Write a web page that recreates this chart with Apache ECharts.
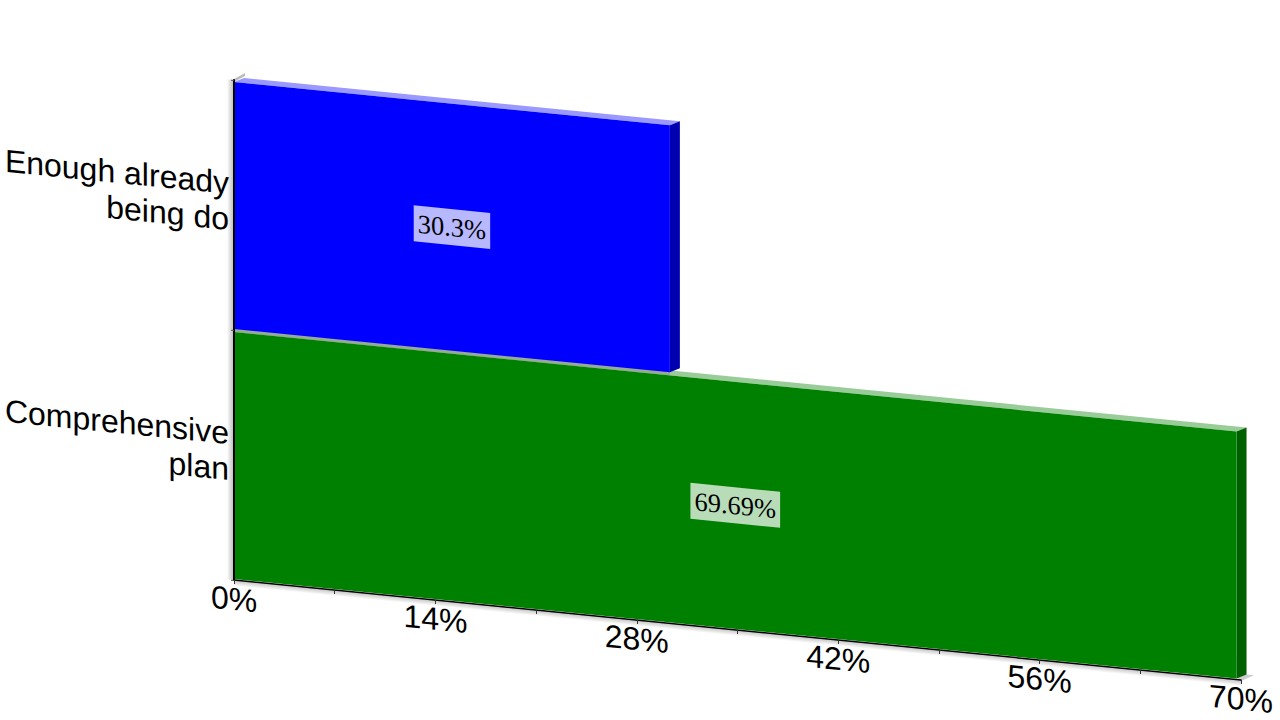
<!DOCTYPE html>
<html>
<head>
<meta charset="utf-8">
<style>
html,body{margin:0;padding:0;background:#fff;overflow:hidden;width:1280px;height:720px}
#chart{position:absolute;left:0;top:0;width:1280px;height:720px;overflow:visible;transform-origin:0 0;transform:matrix(1,0.0993,0,1,0,-23.24)}
</style>
<script src="https://cdn.jsdelivr.net/npm/echarts@6/dist/echarts.min.js"></script>
</head>
<body>
<div id="chart"></div>
<script>
var categories = ['Comprehensive\nplan', 'Enough already\nbeing do'];
var values = [69.69, 30.3];
var labels = ['69.69%', '30.3%'];
var tickLabelSuffix = '%';
var axisMax = 70;
var axisStep = 14;

var frontColors = ['#008000', '#0000ff'];
var topColors = ['#99cc99', '#9999ff'];
var sideColors = ['#006000', '#0000b0'];
var DX = 10, DY = -5;

var chart = echarts.init(document.getElementById('chart'), null, {renderer: 'svg', width: 1280, height: 720});

function poly(points, fill) {
  return {type: 'polygon', shape: {points: points}, style: {fill: fill}};
}

function renderBar(params, api) {
  var i = params.dataIndex;
  var v = api.value(0), c = api.value(1);
  var p0 = api.coord([0, c]), p1 = api.coord([v, c]);
  var h = api.size([0, 1])[1];
  var top = p0[1] - h / 2 + 2, bottom = p0[1] + h / 2 - 1;
  var xl = p0[0], xr = p1[0];
  var children = [
    poly([[xl, top], [xl + DX, top + DY], [xr + DX, top + DY], [xr, top]], topColors[i])
  ];
  // the part of the top face lying under the next bar reads darker
  if (i + 1 < values.length && values[i + 1] < v) {
    var xn = api.coord([values[i + 1], c])[0];
    children.push(poly([[xl, top], [xl, top - 4], [xn, top - 4], [xn, top]], '#96aa96'));
  }
  children.push(poly([[xr, top], [xr + DX, top + DY], [xr + DX, bottom + DY], [xr, bottom]], sideColors[i]));
  children.push({type: 'rect', shape: {x: xl, y: top, width: xr - xl, height: bottom - top}, style: {fill: frontColors[i]}});
  children.push({
    type: 'text', z2: 10,
    style: {
      text: labels[i], x: (xl + xr) / 2, y: (top + bottom) / 2,
      align: 'center', verticalAlign: 'middle',
      font: '26.5px "Liberation Serif"', fill: '#000',
      backgroundColor: 'rgba(255,255,255,0.72)',
      padding: [3, 4, 3, 4], lineHeight: 30
    }
  });
  return {type: 'group', children: children};
}

function fade(x, y, x2, y2, from) {
  return {type: 'linear', x: x, y: y, x2: x2, y2: y2, global: false,
    colorStops: [{offset: 0, color: 'rgba(0,0,0,0)'}, {offset: 1, color: from}]};
}

function renderWall(params, api) {
  var h = api.size([0, 1])[1];
  var tl = api.coord([0, 1]), br = api.coord([axisMax, 0]);
  var ty = tl[1] - h / 2, by = br[1] + h / 2, x0 = tl[0], x1 = br[0];
  return {type: 'group', children: [
    poly([[x0, ty - 1], [x0 + 11, ty - 8], [x0 + 11, ty - 5], [x0, ty + 2]], '#bdbdbd'),
    poly([[x1 - 5, by - 3], [x1 + 5, by - 6], [x1 + 13, by - 6], [x1, by + 1]], '#cccccc'),
    {type: 'rect', shape: {x: x0 - 7, y: ty, width: 7, height: by - ty},
     style: {fill: fade(0, 0, 1, 0, 'rgba(0,0,0,0.28)')}},
    {type: 'rect', shape: {x: x0, y: by, width: x1 - x0, height: 6},
     style: {fill: fade(0, 1, 0, 0, 'rgba(0,0,0,0.25)')}}
  ]};
}

chart.setOption({
  animation: false,
  backgroundColor: '#fff',
  grid: {left: 234, top: 80, width: 1007, height: 500, containLabel: false},
  xAxis: {
    type: 'value', min: 0, max: axisMax, interval: axisStep, z: 10,
    splitLine: {show: false},
    axisLine: {show: true, lineStyle: {color: '#000', width: 1.5}},
    axisTick: {show: true, length: 4, lineStyle: {color: '#333', width: 1}},
    minorTick: {show: true, splitNumber: 2, length: 4, lineStyle: {color: '#333', width: 1}},
    axisLabel: {
      margin: 3, color: '#000', fontSize: 32, fontFamily: 'Liberation Sans',
      showMinLabel: true, showMaxLabel: true, hideOverlap: false,
      formatter: function (v) { return v + tickLabelSuffix; }
    }
  },
  yAxis: {
    type: 'category', data: categories, z: 10,
    axisLine: {show: true, onZero: false, lineStyle: {color: '#000', width: 2}},
    axisTick: {show: true, length: 3, lineStyle: {color: '#555', width: 1}},
    axisLabel: {
      margin: 5, color: '#000', fontSize: 32, fontFamily: 'Liberation Sans',
      lineHeight: 36, align: 'right', interval: 0,
      formatter: function (v) {
        return v.split('\n').map(function (s) { return '{l|' + s + '}'; }).join('\n') + '\n{s| }';
      },
      rich: {
        l: {fontSize: 32, fontFamily: 'Liberation Sans', lineHeight: 36, color: '#000', align: 'right'},
        s: {fontSize: 1, lineHeight: 7}
      }
    }
  },
  series: [
    {type: 'custom', renderItem: renderWall, data: [[0, 0]], encode: {x: 0, y: 1}, silent: true, z: 1, clip: false},
    {type: 'custom', renderItem: renderBar, clip: false, z: 2,
     data: values.map(function (v, i) { return [v, i]; }), encode: {x: 0, y: 1}}
  ]
});
</script>
</body>
</html>
